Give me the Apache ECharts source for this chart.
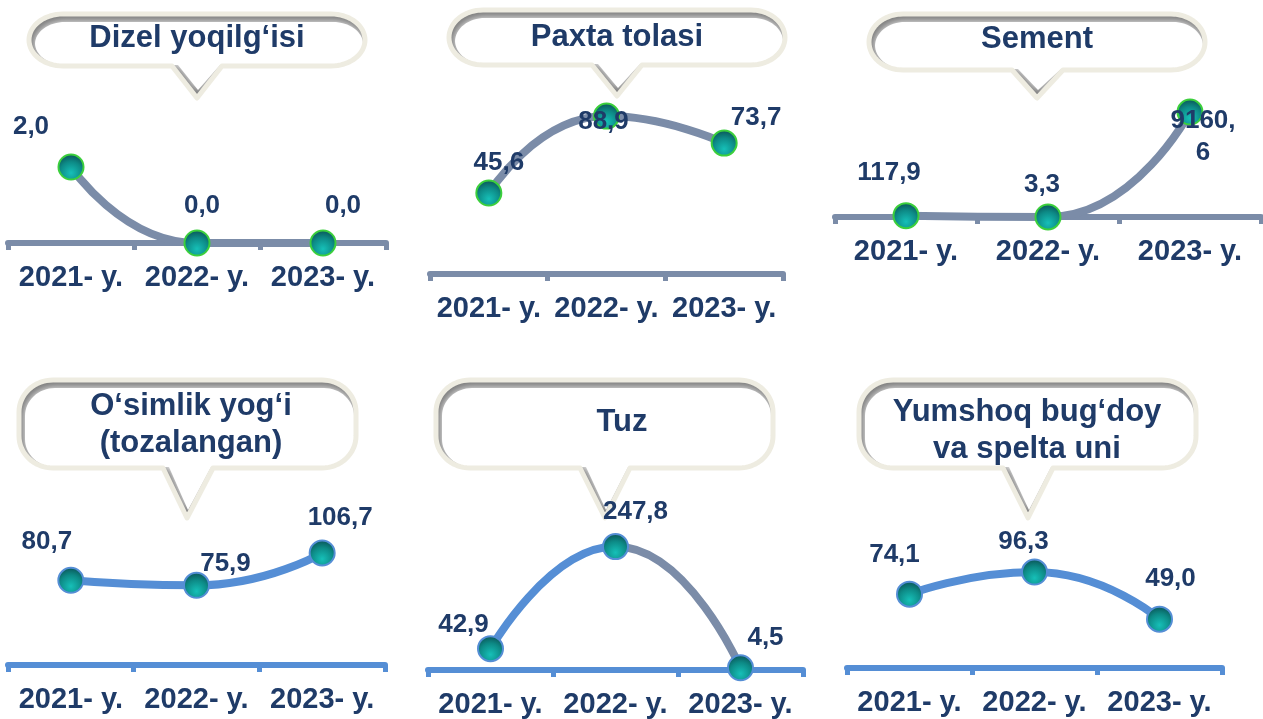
<!DOCTYPE html>
<html><head><meta charset="utf-8">
<script src="https://cdn.jsdelivr.net/npm/echarts@6/dist/echarts.min.js"></script>
<style>html,body{margin:0;padding:0;background:#fff}#c{width:1263px;height:719px}</style>
</head><body><div id="c"></div>
<script>
// ---------- data ----------
const categories = ['2021- y.', '2022- y.', '2023- y.'];
const panelTitles = ['Dizel yoqilg‘isi', 'Paxta tolasi', 'Sement', 'O‘simlik yog‘i\n(tozalangan)', 'Tuz', 'Yumshoq bug‘doy\nva spelta uni'];
const dizelValues = [2.0, 0.0, 0.0];
const paxtaValues = [45.6, 88.9, 73.7];
const sementValues = [117.9, 3.3, 9160.6];
const osimlikValues = [80.7, 75.9, 106.7];
const tuzValues = [42.9, 247.8, 4.5];
const yumshoqValues = [74.1, 96.3, 49.0];
const seriesValues = [dizelValues, paxtaValues, sementValues, osimlikValues, tuzValues, yumshoqValues];

// ---------- styling / layout ----------
const GREY = '#7b8ca8', BLUE = '#558ed5', NAVY = '#1f3b68';
const LABEL_FONT = "'Liberation Sans',Arial,sans-serif";
const MAIN_FONT = "'Liberation Sans',Arial,sans-serif";
const TUZ_LINE = new echarts.graphic.LinearGradient(0, 0, 1, 0, [
  {offset: 0, color: BLUE}, {offset: 0.5, color: BLUE}, {offset: 0.5, color: GREY}, {offset: 1, color: GREY}]);

const panels = [
  {left: 8, right: 386, top: 91, zeroY: 243, max: 4, line: GREY, axis: GREY, border: '#3ccf3c',
   offsets: [[-40, -40], [5, -37], [20, -37]]},
  {left: 430, right: 783, top: 96.4, zeroY: 274, max: 100, line: GREY, axis: GREY, border: '#3ccf3c',
   offsets: [[10, -30], [-3, 6], [32, -25]]},
  {left: 835, right: 1261, top: 102.4, zeroY: 217, max: 10000, line: GREY, axis: GREY, border: '#3ccf3c',
   offsets: [[-17, -43], [-6, -32], [13, 25]], wrapIndex: 2},
  {left: 8, right: 385, top: 539, zeroY: 665, max: 120, line: BLUE, axis: BLUE, border: BLUE,
   offsets: [[-24, -38], [29, -21], [18, -35]]},
  {left: 428, right: 803, top: 520.6, zeroY: 670, max: 300, line: TUZ_LINE, axis: BLUE, border: BLUE,
   offsets: [[-27, -24], [20, -35], [25, -30]]},
  {left: 847, right: 1222, top: 548.4, zeroY: 668, max: 120, line: BLUE, axis: BLUE, border: BLUE,
   offsets: [[-15, -39], [-11, -30], [11, -40]]}
];

const bubbles = [
  {L: 27, T: 12, R: 367, B: 68, tL: 172, tR: 222, tipX: 197, tipY: 100, tx: 197, ty: 38},
  {L: 447, T: 8, R: 787, B: 67, tL: 592, tR: 642, tipX: 617, tipY: 98, tx: 617, ty: 37},
  {L: 867, T: 12, R: 1207, B: 72, tL: 1012, tR: 1063, tipX: 1037, tipY: 100, tx: 1037, ty: 39},
  {L: 17, T: 378, R: 358, B: 470, tL: 163, tR: 213, tipX: 187, tipY: 520, tx: 191, ty: 425},
  {L: 434, T: 378, R: 775, B: 470, tL: 580, tR: 630, tipX: 605, tipY: 520, tx: 622, ty: 422},
  {L: 857, T: 378, R: 1198, B: 470, tL: 1003, tR: 1053, tipX: 1028, tipY: 520, tx: 1027, ty: 431}
];

function bubblePts(L, T, R, B, rx, ry, tL, tR, tipX, tipY) {
  const pts = [];
  const arc = (cx, cy, a0, a1) => {
    for (let k = 0; k <= 16; k++) {
      const a = a0 + (a1 - a0) * k / 16;
      pts.push([cx + rx * Math.cos(a), cy + ry * Math.sin(a)]);
    }
  };
  arc(L + rx, T + ry, Math.PI, 1.5 * Math.PI);
  arc(R - rx, T + ry, 1.5 * Math.PI, 2 * Math.PI);
  arc(R - rx, B - ry, 0, 0.5 * Math.PI);
  pts.push([tR, B], [tipX, tipY], [tL, B]);
  arc(L + rx, B - ry, 0.5 * Math.PI, Math.PI);
  return pts;
}

const graphics = [];
bubbles.forEach((b, i) => {
  const d = 2;
  const h = b.B - b.T - 2 * d;
  const ry = Math.min(h / 2, 32), rx = 34;
  const outer = bubblePts(b.L + d, b.T + d, b.R - d, b.B - d, rx, ry, b.tL, b.tR, b.tipX, b.tipY - d);
  const gl = 6, gt = 8, gr = 2, gb = 1;
  const inner = bubblePts(b.L + d + gl, b.T + d + gt, b.R - d - gr, b.B - d - gb, rx - 4, ry - 4,
    b.tL + gl, b.tR - gr, b.tipX + 1, b.tipY - d - 8);
  graphics.push({type: 'polygon', z: 0, silent: true, shape: {points: outer},
    style: {fill: '#7a7a7a', stroke: 'none'}});
  graphics.push({type: 'polygon', z: 1, silent: true, shape: {points: inner},
    style: {fill: '#ffffff', shadowBlur: 9, shadowColor: '#ffffff'}});
  graphics.push({type: 'polygon', z: 2, silent: true, shape: {points: outer},
    style: {fill: 'none', stroke: '#eeece1', lineWidth: 5, lineJoin: 'round'}});
  graphics.push({type: 'text', z: 20, silent: true, x: b.tx, y: b.ty,
    style: {text: panelTitles[i], fill: NAVY, font: 'bold 31px ' + MAIN_FONT,
      align: 'center', verticalAlign: 'middle', textAlign: 'center', textVerticalAlign: 'middle', lineHeight: 37}});
});

const markerColor = new echarts.graphic.RadialGradient(0.5, 0.72, 0.75, [
  {offset: 0, color: '#16c0b8'}, {offset: 0.55, color: '#0d8a86'}, {offset: 1, color: '#0a4a4e'}]);

const grid = [], xAxis = [], yAxis = [], series = [];
panels.forEach((p, i) => {
  grid.push({left: p.left, top: p.top, width: p.right - p.left, height: p.zeroY - p.top, containLabel: false});
  xAxis.push({
    type: 'category', gridIndex: i, data: categories, boundaryGap: true,
    axisLine: {show: true, lineStyle: {color: p.axis, width: 6}},
    axisTick: {show: true, length: 7, lineStyle: {color: p.axis, width: 5}},
    axisLabel: {interval: 0, margin: 20, color: NAVY, fontSize: 29, fontWeight: 'bold', fontFamily: MAIN_FONT},
    splitLine: {show: false}
  });
  yAxis.push({type: 'value', gridIndex: i, min: 0, max: p.max, show: false, splitLine: {show: false}});
  const label = {
    show: true, position: 'inside', color: NAVY, fontSize: 26, fontWeight: 'bold', fontFamily: LABEL_FONT,
    formatter: (prm) => Number(prm.value).toFixed(1).replace('.', ',')
  };
  series.push({
    type: 'line', xAxisIndex: i, yAxisIndex: i, smooth: 0.55, z: 5,
    symbol: 'circle', symbolSize: 25, clip: false,
    lineStyle: {color: p.line, width: 8, cap: 'round'},
    itemStyle: {color: markerColor, borderColor: p.border, borderWidth: 2},
    label: label,
    emphasis: {disabled: true},
    data: seriesValues[i].map((v, k) => {
      const lab = {offset: p.offsets[k]};
      if (p.wrapIndex === k) Object.assign(lab, {width: 66, overflow: 'breakAll', lineHeight: 32, align: 'center'});
      return {value: v, label: lab};
    })
  });
});

const chart = echarts.init(document.getElementById('c'), null, {renderer: 'canvas'});
chart.setOption({
  backgroundColor: '#ffffff',
  animation: false,
  grid, xAxis, yAxis, series,
  graphic: {elements: graphics}
});
</script></body></html>
